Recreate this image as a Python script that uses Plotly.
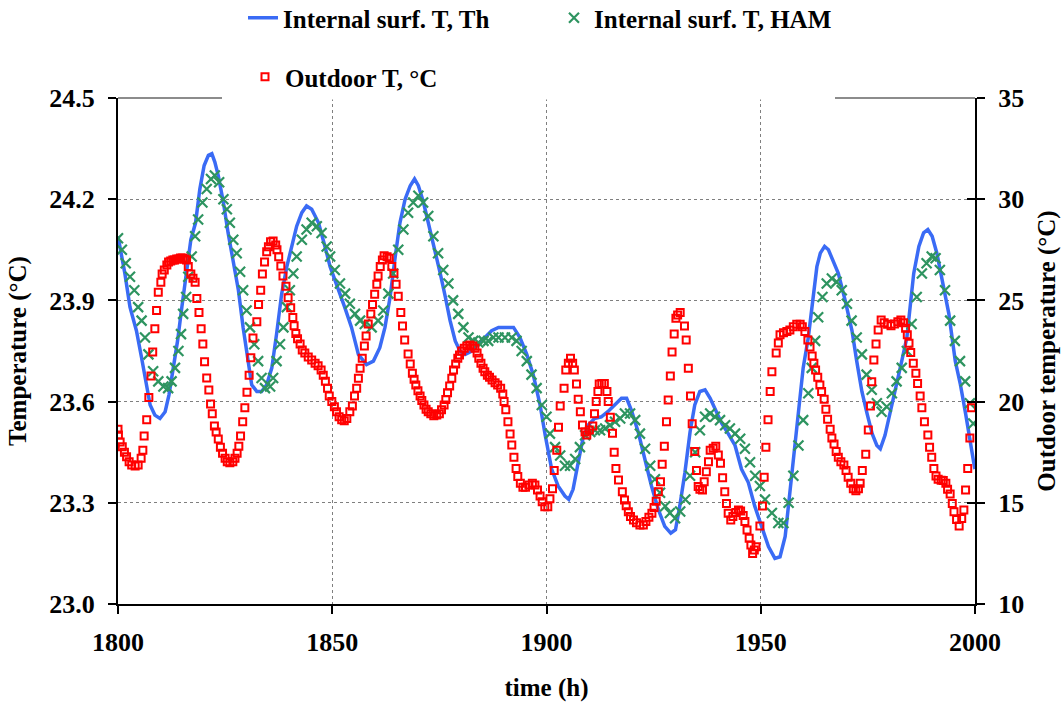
import plotly.graph_objects as go

# ---------------- data ----------------
# Outdoor temperature (right axis, degC)
out_h = [1800.0, 1800.1, 1800.5, 1801.0, 1801.5, 1802.0, 1802.6, 1803.2, 1804.0, 1804.7,
         1805.4, 1805.8, 1806.1, 1806.7, 1807.2, 1807.7, 1808.1, 1808.6, 1809.0, 1809.4,
         1810.0, 1810.3, 1810.8, 1811.4, 1811.8, 1812.3, 1812.8, 1813.2, 1813.7, 1814.2,
         1814.6, 1815.1, 1815.6, 1816.0, 1816.4, 1817.0, 1817.5, 1818.0, 1818.4, 1818.9,
         1819.4, 1819.8, 1820.2, 1820.7, 1821.2, 1821.6, 1822.0, 1822.5, 1822.9, 1823.4,
         1823.9, 1824.4, 1825.0, 1825.5, 1826.1, 1826.8, 1827.3, 1827.8, 1828.2, 1828.6,
         1829.1, 1829.6, 1830.1, 1830.6, 1831.0, 1831.5, 1832.4, 1832.8, 1833.3, 1833.7,
         1834.2, 1834.7, 1835.1, 1835.6, 1836.2, 1836.8, 1837.1, 1837.5, 1838.0, 1838.5,
         1839.2, 1839.7, 1840.3, 1840.8, 1841.1, 1841.5, 1841.9, 1842.5, 1843.0, 1843.6,
         1844.4, 1845.2, 1846.0, 1846.7, 1847.4, 1847.9, 1848.4, 1848.9, 1849.3, 1849.9,
         1850.5, 1851.0, 1851.6, 1852.2, 1852.8, 1853.4, 1854.1, 1854.7, 1855.2, 1855.7,
         1856.1, 1856.5, 1857.0, 1857.5, 1857.9, 1858.4, 1859.0, 1859.4, 1859.9, 1860.4,
         1860.7, 1861.2, 1861.7, 1862.1, 1862.8, 1863.3, 1863.9, 1864.4, 1864.9, 1865.4,
         1866.0, 1866.4, 1866.9, 1867.7, 1868.2, 1868.7, 1869.1, 1869.5, 1870.0, 1870.5,
         1870.9, 1871.4, 1871.9, 1872.4, 1873.0, 1873.7, 1874.4, 1875.0, 1875.5, 1876.1,
         1876.5, 1876.9, 1877.4, 1877.9, 1878.3, 1878.8, 1879.3, 1879.7, 1880.2, 1880.8,
         1881.4, 1882.1, 1882.8, 1883.3, 1883.8, 1884.2, 1884.7, 1885.2, 1885.6, 1886.2,
         1886.7, 1887.3, 1888.0, 1888.6, 1889.3, 1889.8, 1890.1, 1890.5, 1891.0, 1891.5,
         1891.9, 1892.4, 1892.9, 1893.3, 1893.9, 1894.5, 1895.1, 1895.9, 1896.7, 1897.3,
         1897.9, 1898.5, 1899.0, 1899.6, 1900.3, 1900.8, 1901.4, 1901.8, 1902.4, 1902.8,
         1903.2, 1904.1, 1904.5, 1905.1, 1905.6, 1906.1, 1906.5, 1907.0, 1907.4, 1907.9,
         1908.4, 1909.0, 1909.4, 1910.0, 1910.8, 1911.2, 1911.6, 1912.0, 1912.3, 1912.9,
         1913.5, 1914.1, 1914.4, 1914.9, 1915.4, 1915.8, 1916.2, 1916.8, 1917.7, 1918.2,
         1918.6, 1919.1, 1919.6, 1920.3, 1921.0, 1921.8, 1922.6, 1923.2, 1923.9, 1924.6,
         1925.1, 1925.6, 1926.1, 1926.6, 1927.0, 1927.5, 1928.0, 1928.4, 1928.9, 1929.3,
         1929.8, 1930.2, 1930.6, 1931.2, 1932.2, 1932.6, 1933.1, 1933.6, 1934.0, 1934.6,
         1935.0, 1935.4, 1935.8, 1936.4, 1936.8, 1937.3, 1937.8, 1938.2, 1938.9, 1939.5,
         1940.1, 1940.6, 1941.1, 1941.6, 1942.0, 1942.4, 1943.0, 1943.5, 1944.2, 1944.8,
         1945.3, 1945.9, 1946.3, 1946.8, 1947.3, 1947.7, 1948.1, 1948.5, 1948.9, 1949.8,
         1950.4, 1950.8, 1951.2, 1951.7, 1952.2, 1952.6, 1953.6, 1954.1, 1954.5, 1955.3,
         1956.1, 1956.8, 1957.6, 1958.4, 1959.2, 1959.7, 1960.3, 1961.0, 1961.5, 1962.0,
         1962.4, 1962.8, 1963.3, 1963.8, 1964.2, 1964.8, 1965.2, 1965.6, 1966.2, 1966.6,
         1967.1, 1967.6, 1968.1, 1968.7, 1969.4, 1969.9, 1970.4, 1971.0, 1971.6, 1972.2,
         1972.8, 1973.2, 1973.7, 1974.5, 1975.1, 1975.6, 1975.9, 1976.4, 1976.9, 1977.4,
         1978.1, 1978.8, 1979.6, 1980.4, 1981.2, 1982.0, 1982.7, 1983.3, 1983.8, 1984.2,
         1984.6, 1985.0, 1985.6, 1986.2, 1986.6, 1987.2, 1987.6, 1988.2, 1989.0, 1989.4,
         1989.9, 1990.4, 1990.9, 1991.4, 1992.1, 1992.6, 1993.2, 1993.6, 1994.2, 1994.7,
         1995.1, 1995.7, 1996.3, 1996.9, 1997.4, 1997.8, 1998.3, 1998.8, 1999.2]
out_t = [18.63, 18.35, 18.0, 17.77, 17.5, 17.28, 17.03, 16.87, 16.82, 16.87,
         17.2, 17.6, 18.3, 19.1, 20.2, 21.27, 22.45, 23.6, 24.5, 25.4,
         25.9, 26.3, 26.5, 26.75, 26.9, 26.95, 27.0, 27.0, 27.05, 27.05,
         27.1, 27.1, 27.05, 27.0, 26.67, 26.3, 26.1, 25.9, 25.1, 24.4,
         23.6, 22.85, 21.97, 21.17, 20.57, 19.88, 19.4, 18.8, 18.5, 18.15,
         17.74, 17.45, 17.2, 17.03, 16.98, 17.03, 17.2, 17.45, 17.8, 18.3,
         19.0, 19.7, 20.46, 21.3, 22.17, 23.14, 23.95, 24.8, 25.5, 26.3,
         26.9, 27.4, 27.65, 27.9, 27.93, 27.74, 27.5, 27.16, 26.7, 26.2,
         25.7, 25.13, 24.64, 24.15, 23.75, 23.37, 23.1, 22.85, 22.55, 22.4,
         22.2, 22.06, 21.9, 21.77, 21.56, 21.3, 21.0, 20.66, 20.28, 20.0,
         19.75, 19.5, 19.25, 19.1, 19.06, 19.17, 19.5, 19.78, 20.28, 20.66,
         21.15, 21.65, 22.14, 22.75, 23.24, 23.83, 24.33, 24.8, 25.3, 25.8,
         26.2, 26.67, 27.0, 27.2, 27.16, 27.08, 26.67, 26.34, 25.8, 25.2,
         24.4, 23.74, 23.04, 22.35, 21.86, 21.4, 21.1, 20.82, 20.54, 20.28,
         20.05, 19.83, 19.62, 19.5, 19.4, 19.3, 19.34, 19.4, 19.6, 19.83,
         20.1, 20.44, 20.77, 21.15, 21.56, 21.86, 22.14, 22.3, 22.5, 22.63,
         22.75, 22.8, 22.75, 22.63, 22.4, 22.14, 21.9, 21.65, 21.48, 21.3,
         21.2, 21.07, 20.93, 20.82, 20.66, 20.38, 20.0, 19.6, 19.0, 18.4,
         17.85, 17.25, 16.7, 16.3, 15.96, 15.77, 15.77, 15.88, 15.96, 15.88,
         15.63, 15.34, 15.05, 14.8, 14.8, 15.2, 15.7, 16.6, 17.6, 18.73,
         19.78, 20.66, 21.56, 21.9, 22.14, 21.9, 21.56, 20.87, 20.11, 19.5,
         18.84, 18.5, 18.35, 18.6, 18.8, 19.4, 20.0, 20.5, 20.87, 20.9,
         20.9, 20.5, 20.0, 19.23, 18.44, 17.5, 16.7, 16.13, 15.55, 15.14,
         14.86, 14.56, 14.32, 14.15, 14.02, 13.9, 13.9, 14.07, 14.28, 14.48,
         14.77, 15.08, 15.55, 16.04, 16.9, 17.8, 19.0, 20.08, 21.26, 22.45,
         23.34, 24.12, 24.28, 24.4, 23.74, 23.04, 21.65, 20.28, 18.9, 17.53,
         16.6, 15.8, 15.67, 15.63, 16.04, 16.54, 17.03, 17.6, 17.7, 17.8,
         17.36, 16.95, 16.24, 15.55, 14.97, 14.48, 14.15, 14.32, 14.52, 14.65,
         14.6, 14.37, 14.07, 13.66, 13.25, 12.92, 12.5, 12.67, 12.83, 13.85,
         14.84, 16.26, 17.74, 19.1, 20.5, 21.48, 22.4, 22.9, 23.3, 23.4,
         23.46, 23.54, 23.7, 23.82, 23.82, 23.7, 23.46, 23.04, 22.7, 22.25,
         21.9, 21.56, 21.2, 20.82, 20.5, 20.11, 19.62, 19.13, 18.63, 18.2,
         17.9, 17.53, 17.25, 17.03, 16.87, 16.6, 16.26, 15.97, 15.7, 15.6,
         15.7, 15.97, 16.6, 17.4, 18.6, 19.78, 20.98, 22.06, 22.85, 23.54,
         24.03, 23.9, 23.82, 23.75, 23.84, 23.95, 24.03, 23.9, 23.62, 23.3,
         22.88, 22.42, 21.9, 21.4, 20.9, 20.28, 19.7, 19.0, 18.35, 17.74,
         17.25, 16.7, 16.32, 16.16, 16.12, 16.1, 15.97, 15.67, 15.43, 14.97,
         14.56, 14.18, 13.85, 14.23, 14.64, 15.63, 16.7, 18.2, 19.7]

# Internal surface temperature, Th model (left axis)
th_h = [1800.0, 1801.6, 1802.8, 1804.3, 1805.5, 1806.7, 1807.5, 1808.6, 1809.8, 1811.0,
        1811.9, 1812.9, 1813.9, 1814.9, 1816.0, 1817.0, 1818.1, 1819.1, 1820.1, 1821.1,
        1821.9, 1822.6, 1823.4, 1824.6, 1825.7, 1826.9, 1828.1, 1829.2, 1830.3, 1831.2,
        1832.4, 1833.5, 1834.7, 1835.9, 1837.0, 1838.2, 1839.4, 1840.5, 1841.7, 1842.9,
        1844.0, 1845.2, 1846.8, 1848.3, 1849.5, 1852.9, 1854.5, 1856.1, 1858.0, 1859.6,
        1861.1, 1862.3, 1863.5, 1864.7, 1865.8, 1867.0, 1868.2, 1869.2, 1870.1, 1871.3,
        1872.8, 1874.0, 1875.2, 1876.4, 1877.5, 1878.7, 1879.8, 1881.0, 1882.6, 1884.1,
        1885.7, 1887.2, 1888.8, 1890.7, 1892.3, 1893.8, 1895.4, 1896.9, 1898.5, 1899.7,
        1901.2, 1902.7, 1904.3, 1905.2, 1906.2, 1907.4, 1908.5, 1909.7, 1911.2, 1912.8,
        1914.3, 1915.9, 1917.5, 1918.7, 1919.8, 1921.4, 1922.9, 1924.5, 1926.1, 1927.6,
        1929.0, 1930.1, 1931.1, 1932.3, 1933.5, 1934.6, 1935.8, 1937.0, 1938.2, 1939.3,
        1940.9, 1942.4, 1944.0, 1945.5, 1947.1, 1948.6, 1950.2, 1951.8, 1953.3, 1954.5,
        1955.7, 1956.8, 1958.0, 1958.8, 1959.9, 1961.1, 1962.3, 1963.1, 1963.9, 1964.9,
        1965.8, 1967.0, 1968.1, 1969.7, 1971.3, 1972.4, 1973.6, 1974.8, 1976.0, 1977.1,
        1977.9, 1979.0, 1980.2, 1981.4, 1982.9, 1984.1, 1984.9, 1985.7, 1986.9, 1988.0,
        1989.0, 1990.0, 1991.1, 1992.3, 1993.9, 1995.4, 1996.6, 1997.8, 1998.7, 1999.7,
        2000.0]
th_t = [24.09, 23.98, 23.88, 23.81, 23.73, 23.65, 23.59, 23.56, 23.55, 23.57,
        23.62, 23.70, 23.78, 23.88, 23.98, 24.08, 24.13, 24.23, 24.30, 24.33,
        24.335, 24.31, 24.27, 24.19, 24.10, 24.02, 23.93, 23.82, 23.72, 23.65,
        23.63, 23.63, 23.65, 23.70, 23.80, 23.92, 24.00, 24.06, 24.12, 24.16,
        24.18, 24.17, 24.13, 24.06, 24.00, 23.88, 23.82, 23.74, 23.71, 23.72,
        23.76, 23.82, 23.91, 24.03, 24.13, 24.20, 24.24, 24.26, 24.24, 24.19,
        24.11, 24.05, 23.98, 23.91, 23.84, 23.78, 23.75, 23.74, 23.75, 23.77,
        23.79, 23.81, 23.82, 23.82, 23.82, 23.79, 23.74, 23.68, 23.59, 23.50,
        23.40, 23.35, 23.32, 23.31, 23.34, 23.42, 23.49, 23.53, 23.55, 23.555,
        23.57, 23.59, 23.61, 23.61, 23.575, 23.51, 23.43, 23.35, 23.28, 23.23,
        23.21, 23.22, 23.29, 23.39, 23.51, 23.59, 23.63, 23.635, 23.61, 23.58,
        23.535, 23.505, 23.47, 23.40, 23.36, 23.29, 23.23, 23.17, 23.135, 23.14,
        23.20, 23.33, 23.47, 23.585, 23.70, 23.79, 23.92, 24.00, 24.04, 24.06,
        24.05, 24.015, 23.98, 23.90, 23.81, 23.72, 23.63, 23.565, 23.505, 23.47,
        23.46, 23.50, 23.565, 23.64, 23.72, 23.79, 23.89, 23.98, 24.06, 24.10,
        24.11, 24.09, 24.04, 23.96, 23.86, 23.72, 23.65, 23.565, 23.49, 23.42,
        23.40]

# Internal surface temperature, HAM model (left axis)
ham_h = [1800.0, 1800.9, 1801.8, 1802.8, 1803.8, 1804.7, 1805.5, 1806.3, 1807.1, 1808.2,
         1809.4, 1810.6, 1811.7, 1812.5, 1813.3, 1814.1, 1814.7, 1815.2, 1815.9, 1816.4,
         1817.2, 1818.0, 1818.7, 1819.7, 1820.7, 1821.7, 1822.6, 1823.6, 1824.6, 1825.4,
         1826.1, 1826.9, 1827.7, 1828.5, 1829.2, 1830.0, 1830.8, 1831.8, 1832.7, 1833.5,
         1834.3, 1835.5, 1836.2, 1837.0, 1837.8, 1838.6, 1839.4, 1840.1, 1840.9, 1841.7,
         1842.9, 1844.0, 1845.2, 1846.4, 1847.5, 1848.7, 1849.5, 1850.6, 1851.8, 1853.0,
         1854.1, 1855.3, 1856.5, 1857.6, 1859.2, 1860.7, 1861.9, 1863.1, 1864.2, 1865.4,
         1866.6, 1867.7, 1868.9, 1870.1, 1871.2, 1872.4, 1873.6, 1874.7, 1875.9, 1877.1,
         1878.2, 1879.4, 1880.6, 1881.8, 1882.9, 1884.1, 1885.3, 1886.4, 1887.6, 1888.8,
         1890.3, 1891.9, 1893.0, 1894.2, 1895.4, 1896.5, 1897.7, 1898.9, 1900.0, 1900.8,
         1902.0, 1903.2, 1904.3, 1905.5, 1906.7, 1907.8, 1909.0, 1910.2, 1911.3, 1912.5,
         1913.7, 1914.8, 1916.0, 1917.2, 1918.3, 1919.5, 1920.7, 1921.8, 1923.0, 1924.2,
         1925.3, 1926.5, 1927.7, 1928.8, 1930.0, 1931.2, 1932.4, 1933.5, 1934.7, 1935.8,
         1937.0, 1938.2, 1939.3, 1940.5, 1941.7, 1942.8, 1944.0, 1945.2, 1946.3, 1947.5,
         1948.7, 1949.8, 1951.0, 1952.6, 1954.1, 1955.3, 1956.5, 1957.6, 1958.8, 1959.9,
         1961.1, 1961.9, 1962.7, 1963.4, 1964.4, 1965.4, 1966.6, 1967.7, 1968.9, 1970.1,
         1971.2, 1972.4, 1973.6, 1974.7, 1975.9, 1977.1, 1978.2, 1979.4, 1980.6, 1981.7,
         1982.9, 1984.1, 1985.2, 1986.4, 1987.6, 1988.7, 1989.9, 1990.8, 1991.8, 1993.0,
         1994.2, 1995.3, 1996.5, 1997.7, 1998.8, 1999.6]
ham_t = [24.084, 24.05, 24.01, 23.97, 23.93, 23.88, 23.84, 23.79, 23.74, 23.69,
         23.66, 23.645, 23.64, 23.66, 23.70, 23.75, 23.80, 23.86, 23.91, 23.97,
         24.03, 24.09, 24.14, 24.19, 24.23, 24.26, 24.27, 24.25, 24.20, 24.17,
         24.13, 24.08, 24.04, 23.985, 23.93, 23.87, 23.82, 23.77, 23.72, 23.67,
         23.64, 23.645, 23.67, 23.72, 23.77, 23.82, 23.88, 23.93, 23.98, 24.03,
         24.08, 24.11, 24.13, 24.12, 24.10, 24.06, 24.03, 23.99, 23.95, 23.92,
         23.89, 23.86, 23.84, 23.83, 23.82, 23.84, 23.87, 23.92, 23.98, 24.05,
         24.11, 24.16, 24.19, 24.21, 24.19, 24.15, 24.09, 24.04, 23.99, 23.95,
         23.90, 23.86, 23.82, 23.79, 23.78, 23.775, 23.78, 23.78, 23.79, 23.79,
         23.79, 23.79, 23.78, 23.75, 23.72, 23.68, 23.64, 23.59, 23.555, 23.505,
         23.465, 23.44, 23.41, 23.41, 23.43, 23.465, 23.50, 23.51, 23.515, 23.515,
         23.52, 23.53, 23.54, 23.55, 23.565, 23.565, 23.545, 23.505, 23.46, 23.41,
         23.37, 23.33, 23.29, 23.27, 23.254, 23.274, 23.31, 23.38, 23.45, 23.515,
         23.555, 23.565, 23.555, 23.545, 23.53, 23.52, 23.505, 23.49, 23.46, 23.42,
         23.38, 23.35, 23.31, 23.27, 23.24, 23.24, 23.30, 23.38, 23.47, 23.545,
         23.625, 23.70, 23.78, 23.85, 23.91, 23.95, 23.965, 23.955, 23.93, 23.89,
         23.84, 23.79, 23.74, 23.68, 23.635, 23.595, 23.57, 23.585, 23.625, 23.66,
         23.70, 23.75, 23.83, 23.91, 23.98, 24.01, 24.03, 24.025, 23.99, 23.93,
         23.84, 23.78, 23.72, 23.66, 23.595, 23.535]

x_ticks = [1800, 1850, 1900, 1950, 2000]
y_ticks = [23.0, 23.3, 23.6, 23.9, 24.2, 24.5]
y2_ticks = [10, 15, 20, 25, 30, 35]

# ---------------- figure ----------------
FONT = "Liberation Serif"
TICK_FONT = dict(family=FONT, size=26, color="black", weight="bold")
TITLE_FONT = dict(family=FONT, size=25, color="black", weight="bold")

fig = go.Figure()

fig.add_trace(go.Scatter(
    x=th_h, y=th_t, name="Internal surf. T, Th", mode="lines",
    line=dict(color="#3A6BF5", width=3.5), yaxis="y", legend="legend"))
fig.add_trace(go.Scatter(
    x=ham_h, y=ham_t, name="Internal surf. T, HAM", mode="markers",
    marker=dict(symbol="x-thin-open", size=10, color="#2E9460",
                line=dict(color="#2E9460", width=2.2)),
    yaxis="y", legend="legend"))
fig.add_trace(go.Scatter(
    x=out_h, y=out_t, name="Outdoor T, °C", mode="markers",
    marker=dict(symbol="square-open", size=7, color="#FF0000",
                line=dict(color="#FF0000", width=2)),
    yaxis="y2", legend="legend2"))

axis_common = dict(showline=True, linecolor="black", linewidth=2,
                   ticks="outside", ticklen=8, tickwidth=2, tickcolor="black",
                   zeroline=False, tickfont=TICK_FONT, automargin=False)

fig.update_layout(
    width=1061, height=704,
    margin=dict(l=118, r=86, t=98, b=100, autoexpand=False),
    paper_bgcolor="white", plot_bgcolor="white",
    font=dict(family=FONT, size=25, color="black", weight="bold"),
    xaxis=dict(range=[1800, 2000], tickvals=x_ticks, showgrid=True,
               gridcolor="#7f7f7f", gridwidth=1, griddash="dot",
               ticklabelstandoff=6,
               title=dict(text="time (h)", standoff=22, font=TITLE_FONT),
               **axis_common),
    yaxis=dict(range=[23.0, 24.5], tickvals=y_ticks, tickformat=".1f",
               showgrid=True, gridcolor="#7f7f7f", gridwidth=1, griddash="dot",
               ticklabelstandoff=8,
               title=dict(text="Temperature (°C)", standoff=16, font=TITLE_FONT),
               **axis_common),
    yaxis2=dict(range=[10, 35], tickvals=y2_ticks, overlaying="y", side="right",
                showgrid=False, anchor="x", ticklabelstandoff=8,
                title=dict(text="Outdoor temperature (°C)", standoff=16,
                           font=TITLE_FONT),
                **axis_common),
    yaxis3=dict(range=[10, 35], tickvals=y2_ticks, overlaying="y", side="right",
                anchor="x", showgrid=False, showline=False, showticklabels=False,
                ticks="inside", ticklen=8, tickwidth=2, tickcolor="black",
                zeroline=False),
    legend=dict(orientation="h", xref="container", yref="container",
                x=243 / 1061, xanchor="left", y=1 - 18 / 704, yanchor="middle",
                bgcolor="rgba(0,0,0,0)", entrywidth=266, entrywidthmode="pixels",
                font=TITLE_FONT, itemwidth=30, traceorder="normal"),
    legend2=dict(orientation="h", xref="container", yref="container",
                 x=245 / 1061, xanchor="left", y=1 - 77 / 704, yanchor="middle",
                 bgcolor="rgba(0,0,0,0)", font=TITLE_FONT, itemwidth=30),
    showlegend=True,
)

# a dummy trace so that yaxis3 (inner tick marks of the right axis) is drawn
fig.add_trace(go.Scatter(x=[None], y=[None], yaxis="y3", showlegend=False,
                         hoverinfo="skip"))

# top frame line (gray), interrupted where the legend sits
x_gap0 = (222 - 118) / 857
x_gap1 = (835 - 118) / 857
fig.add_shape(type="line", xref="paper", yref="paper", x0=x_gap0, x1=x_gap1,
              y0=1, y1=1, line=dict(color="white", width=3), layer="above")
fig.add_shape(type="line", xref="paper", yref="paper", x0=0, x1=x_gap0,
              y0=1, y1=1, line=dict(color="#8c8c8c", width=2), layer="above")
fig.add_shape(type="line", xref="paper", yref="paper", x0=x_gap1, x1=1,
              y0=1, y1=1, line=dict(color="#8c8c8c", width=2), layer="above")

fig.write_html("out.html")
